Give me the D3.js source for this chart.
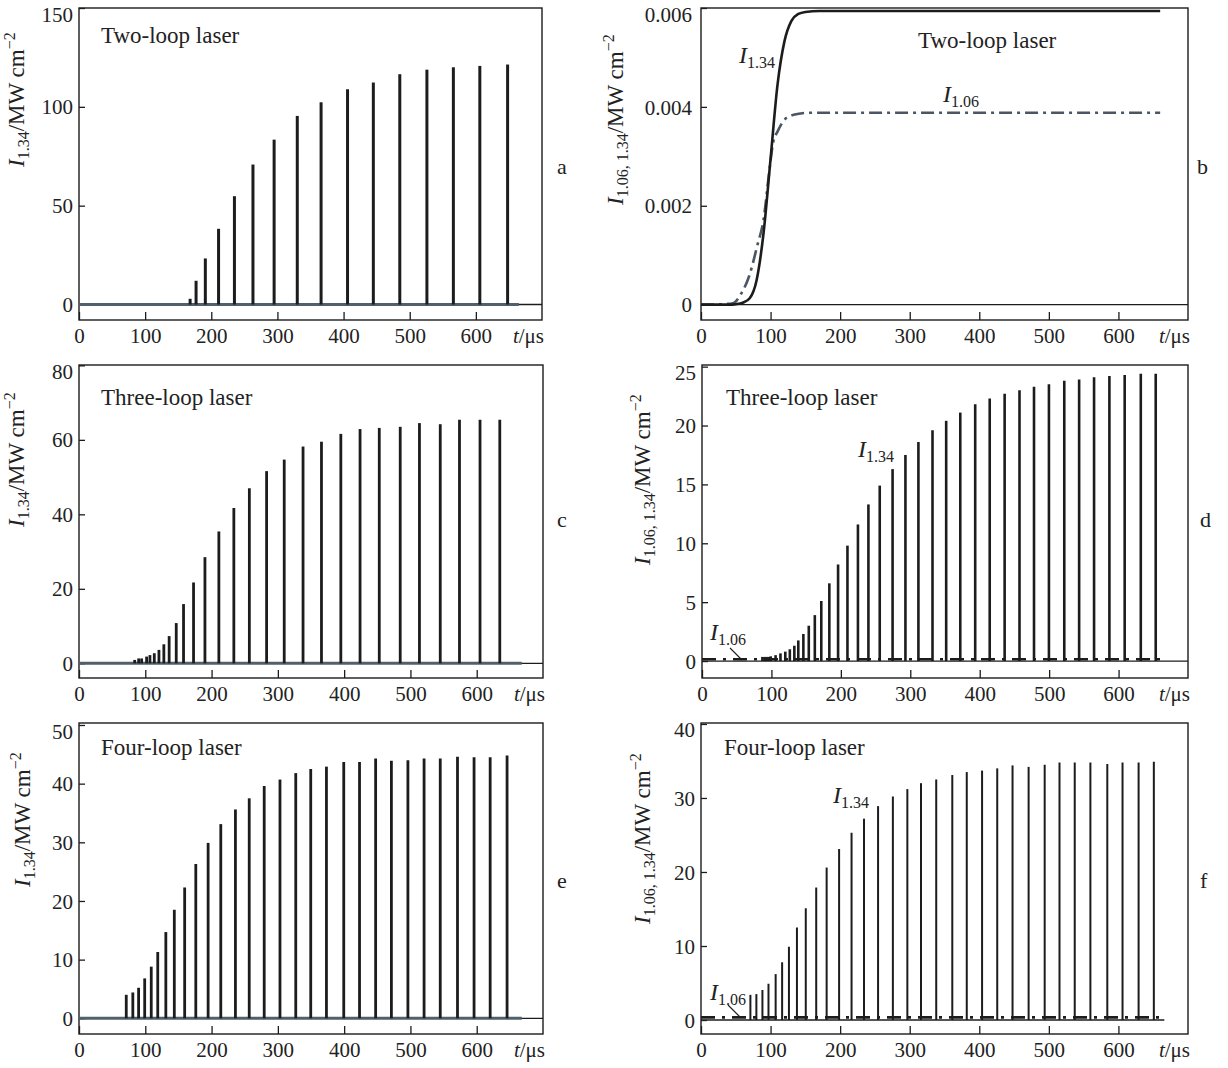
<!DOCTYPE html>
<html>
<head>
<meta charset="utf-8">
<script src="https://cdn.jsdelivr.net/npm/d3@7"></script>
<style>
  body { margin: 0; background: #fff; }
  svg text { font-family: "Liberation Serif", "Times New Roman", serif; fill: #222; }
</style>
</head>
<body>
<svg id="chart" width="1228" height="1068"></svg>
<script>
// pulse times (us) and peak intensities
const tA = [168,177,191,211,235,263,295,330,366,406,445,485,526,566,606,648];
const iA = [2.9,12.0,23.3,38.3,54.8,70.8,83.4,95.4,102.3,108.9,112.3,116.5,118.8,120.0,120.7,121.4];

const tB134 = [0,40,50,60,70,80,90,100,110,120,130,140,150,170,250,400,660];
const iB134 = [0,0,0.00001,0.00004,0.00013,0.0005,0.00146,0.00295,0.00445,0.00533,0.00574,0.00588,0.00592,0.00594,0.00594,0.00594,0.00594];
const tB106 = [0,30,46,58,69,81,90,98,104,110,122,133,156,660];
const iB106 = [0,0.00001,0.00003,0.00023,0.00057,0.0012,0.00173,0.00268,0.0033,0.0035,0.00377,0.00384,0.00388,0.00388];

const tC = [84,90,94.5,102,107,113.6,120.6,128,136,146.7,157.7,172.8,190,211,233.6,257,283,309.6,338,365.8,395,424,453,484.6,513.6,545,574,605,634.8];
const iC = [0.9,1.3,1.3,1.8,2.2,2.7,3.6,5.1,7.3,10.8,15.9,21.7,28.5,35.4,41.7,47.0,51.6,54.7,58.2,59.5,61.6,62.9,63.2,63.5,64.5,64.2,65.4,65.4,65.4];

const tD = [87,90,93,96,99,106,113,120,126.5,133,138.7,146,153.8,162.5,171.8,183.4,196,209.5,224.6,239.7,256,274.5,293,311.7,332,351.7,372,393.5,414.4,435.9,457.3,478.2,499.7,521.8,543.2,564.7,586.8,608.8,632,653.5];
const iD = [0.35,0.35,0.35,0.35,0.4,0.5,0.65,0.8,1.0,1.3,1.75,2.3,3.0,3.9,5.1,6.6,8.2,9.8,11.6,13.3,14.9,16.3,17.5,18.6,19.6,20.4,21.1,21.8,22.3,22.7,23.0,23.3,23.5,23.8,23.9,24.1,24.2,24.3,24.4,24.4];

const tE = [71.3,81.2,89.9,99.1,109,118.8,131,143.8,159.4,176.2,194.8,213.9,236,256.8,279.4,303.2,327,349.6,373.3,399.4,423.2,447.5,471.3,496.2,520.6,545,571,596,620.3,645.8];
const iE = [4.0,4.4,5.2,6.8,8.8,11.3,14.7,18.5,22.3,26.3,29.9,33.1,35.6,37.5,39.6,40.7,41.8,42.5,42.9,43.7,43.7,44.3,43.9,44.0,44.3,44.3,44.6,44.5,44.5,44.8];

const tF = [71,79.6,88.3,97,107.3,116.6,126.4,137.9,150.6,165.6,180.6,198.5,216.4,234.3,254.5,275.8,296.6,316.2,338.1,361.2,382,404,425.8,447.8,470.9,494,515.3,537.2,559.7,584,605.9,629,650.9];
const iF = [3.4,3.5,4.05,4.9,6.2,7.8,9.9,12.5,15.1,17.9,20.6,23.1,25.3,27.2,28.9,30.2,31.2,32.0,32.5,33.1,33.5,33.7,34.0,34.4,34.2,34.5,34.8,34.8,34.8,34.6,34.8,34.8,34.9];

// I1.06 baseline level in panels d and f
const base106D = [0.15, 0.15];
const base106F = [0.35, 0.35];
const baseT = [0, 660];

const xTicks = [0,100,200,300,400,500,600];
const yTicksA = [0,50,100,150];
const yTicksB = [0,0.002,0.004,0.006];
const yTicksC = [0,20,40,60,80];
const yTicksD = [0,5,10,15,20,25];
const yTicksE = [0,10,20,30,40,50];
const yTicksF = [0,10,20,30,40];

const svg = d3.select("#chart");
const INK = "#1c1c1c";
const SLATE = "#51606b";

// draw frame, inward ticks and tick labels for one panel, return scales
function panel(box, yDomain, yTicks, yFmt){
    let x = d3.scaleLinear().domain([0,700]).range([box.l, box.r]);
    let y = d3.scaleLinear().domain(yDomain).range([box.b, box.t]);
    let g = svg.append("g");

    g.append("rect")
        .attr("x", box.l).attr("y", box.t)
        .attr("width", box.r - box.l).attr("height", box.b - box.t)
        .attr("fill", "none").attr("stroke", INK).attr("stroke-width", 1.4);

    // x ticks point up into the frame
    let xa = g.append("g").attr("transform", "translate(0," + box.b + ")")
        .call(d3.axisBottom(x).tickValues(xTicks).tickSizeInner(-8).tickSizeOuter(0).tickPadding(0));
    xa.select(".domain").remove();
    xa.selectAll("line").attr("stroke", INK).attr("stroke-width", 1.3);
    xa.selectAll("text").attr("y", 23).attr("dy", 0)
        .style("font-size", "21px").attr("fill", "#222");

    let ya = g.append("g").attr("transform", "translate(" + box.l + ",0)")
        .call(d3.axisLeft(y).tickValues(yTicks).tickFormat(yFmt || (d => d)).tickSizeInner(-6).tickSizeOuter(0).tickPadding(box.pad || 6));
    ya.select(".domain").remove();
    ya.selectAll("line").attr("stroke", INK).attr("stroke-width", 1.3);
    // top label sits a little lower so it stays on the page
    let top = yTicks[yTicks.length - 1];
    ya.selectAll("text").attr("dy", d => d === top ? "0.62em" : "0.34em")
        .style("font-size", "21px").attr("fill", "#222");

    // unit label t/us at the end of the x axis
    let tu = g.append("text").attr("x", box.r + 2).attr("y", box.b + 23)
        .attr("text-anchor", "end").style("font-size", "21px");
    tu.append("tspan").attr("font-style", "italic").text("t");
    tu.append("tspan").text("/\u03bcs");

    return {x, y, g};
}

function yLabel(px, py, sub){
    let t = svg.append("text")
        .attr("transform", "translate(" + px + "," + py + ") rotate(-90)")
        .style("font-size", "23px");
    t.append("tspan").attr("font-style", "italic").text("I");
    t.append("tspan").attr("dy", 5).style("font-size", "16px").text(sub);
    t.append("tspan").attr("dy", -5).text("/MW cm");
    t.append("tspan").attr("dy", -9).style("font-size", "16px").text("\u22122");
}

function note(px, py, txt){
    svg.append("text").attr("x", px).attr("y", py).style("font-size", "23px").text(txt);
}

function intensityTag(px, py, sub){
    let t = svg.append("text").attr("x", px).attr("y", py).style("font-size", "24px");
    t.append("tspan").attr("font-style", "italic").text("I");
    t.append("tspan").attr("dy", 5).style("font-size", "16px").text(sub);
}

function letter(px, py, s){
    svg.append("text").attr("x", px).attr("y", py).style("font-size", "22px").text(s);
}

function zeroLine(p, t1, colour, width){
    p.g.append("line")
        .attr("x1", p.x(0)).attr("x2", p.x(t1))
        .attr("y1", p.y(0)).attr("y2", p.y(0))
        .attr("stroke", colour).attr("stroke-width", width);
}

function pulses(p, ts, vs, width){
    p.g.append("g").selectAll("line")
        .data(d3.zip(ts, vs)).join("line")
        .attr("x1", d => p.x(d[0])).attr("x2", d => p.x(d[0]))
        .attr("y1", p.y(0)).attr("y2", d => p.y(d[1]))
        .attr("stroke", INK).attr("stroke-width", width);
}

function dashDot(p, ts, vs, colour, width, dash, curve){
    let line = d3.line().x(d => p.x(d[0])).y(d => p.y(d[1])).curve(curve || d3.curveLinear);
    p.g.append("path").datum(d3.zip(ts, vs))
        .attr("d", line).attr("fill", "none")
        .attr("stroke", colour).attr("stroke-width", width)
        .attr("stroke-dasharray", dash);
}

// ---- a
let pa = panel({l:79, r:542, t:8, b:320}, [-7.84,150], yTicksA);
zeroLine(pa, 700, INK, 1.3);
zeroLine(pa, 665, SLATE, 3);
pulses(pa, tA, iA, 3);
note(101, 43, "Two-loop laser");
yLabel(24, 167, "1.34");
letter(557, 174, "a");

// ---- b
let pb = panel({l:701, r:1188, t:8, b:320, pad:9}, [-0.00031,0.006], yTicksB, d => d === 0 ? "0" : d3.format(".3f")(d));
zeroLine(pb, 700, INK, 1.3);
dashDot(pb, tB106, iB106, "#4a5663", 2.6, "13,5,3,5", d3.curveMonotoneX);
dashDot(pb, tB134, iB134, INK, 2.6, null, d3.curveMonotoneX);
intensityTag(739, 63, "1.34");
intensityTag(943, 102, "1.06");
note(918, 48, "Two-loop laser");
yLabel(623, 205, "1.06, 1.34");
letter(1197, 174, "b");

// ---- c
let pc = panel({l:79, r:543, t:365, b:678}, [-3.95,80.1], yTicksC);
zeroLine(pc, 700, INK, 1.3);
zeroLine(pc, 668, SLATE, 3);
pulses(pc, tC, iC, 2.8);
note(101, 405, "Three-loop laser");
yLabel(24, 527, "1.34");
letter(557, 527, "c");

// ---- d
let pd = panel({l:702, r:1188, t:365, b:678}, [-1.44,25.14], yTicksD);
zeroLine(pd, 700, INK, 1.3);
dashDot(pd, baseT, base106D, INK, 2.6, "14,7,3,7");
pulses(pd, tD, iD, 2.6);
intensityTag(858, 457, "1.34");
intensityTag(710, 640, "1.06");
pd.g.append("line").attr("x1", 730).attr("y1", 648).attr("x2", 742).attr("y2", 660)
    .attr("stroke", INK).attr("stroke-width", 1.1);
note(726, 405, "Three-loop laser");
yLabel(650, 565, "1.06, 1.34");
letter(1200, 527, "d");

// ---- e
let pe = panel({l:79, r:543, t:723, b:1034}, [-2.68,50.34], yTicksE);
zeroLine(pe, 700, INK, 1.3);
zeroLine(pe, 668, SLATE, 3);
pulses(pe, tE, iE, 2.8);
note(101, 755, "Four-loop laser");
yLabel(30, 887, "1.34");
letter(557, 888, "e");

// ---- f
let pf = panel({l:701, r:1188, t:723, b:1034}, [-1.89,40.13], yTicksF);
zeroLine(pf, 666, INK, 1.4);
dashDot(pf, baseT, base106F, INK, 2.8, "14,7,3,7");
pulses(pf, tF, iF, 2);
intensityTag(833, 803, "1.34");
intensityTag(710, 1000, "1.06");
pf.g.append("line").attr("x1", 728).attr("y1", 1005).attr("x2", 740).attr("y2", 1017)
    .attr("stroke", INK).attr("stroke-width", 1.1);
note(724, 755, "Four-loop laser");
yLabel(650, 924, "1.06, 1.34");
letter(1200, 888, "f");
</script>
</body>
</html>
